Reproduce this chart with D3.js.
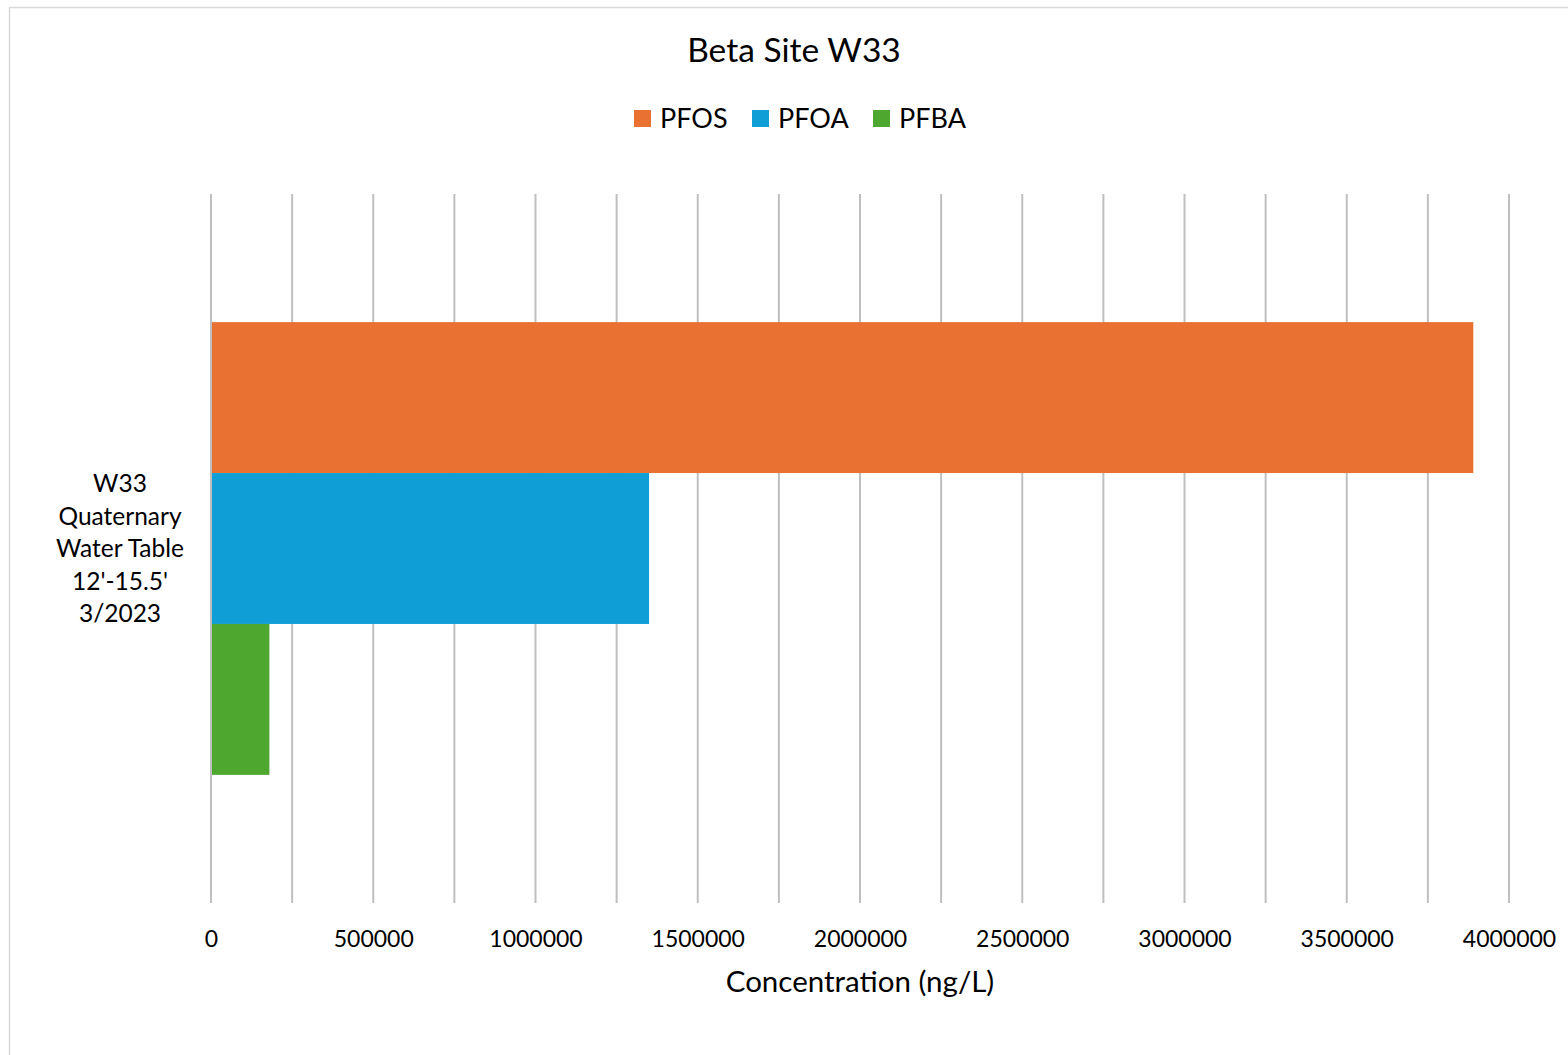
<!DOCTYPE html>
<html><head><meta charset="utf-8">
<script src="https://cdn.jsdelivr.net/npm/d3@7"></script>
<style>html,body{margin:0;padding:0;background:#fff;}svg{display:block;font-family:Lato,"Open Sans",sans-serif;}</style>
</head><body>
<svg id="chart" width="1568" height="1055"></svg>
<script>
const categories = ["W33 Quaternary Water Table 12'-15.5' 3/2023"];
const categoryLines = [["W33", "Quaternary", "Water Table", "12'-15.5'", "3/2023"]];
const seriesNames = ["PFOS", "PFOA", "PFBA"];
const pfos = [3890000];
const pfoa = [1350000];
const pfba = [180000];
const colors = ["#E97132", "#0F9ED5", "#4EA72E"];
const xTicks = [0, 500000, 1000000, 1500000, 2000000, 2500000, 3000000, 3500000, 4000000];
const gridTicks = d3.range(0, 4000001, 250000);

const seriesValues = [pfos, pfoa, pfba];
const svg = d3.select("#chart");
const W = 1568, H = 1055;

// chart border
svg.append("rect").attr("x", 9.5).attr("y", 7.5).attr("width", W).attr("height", H)
  .attr("fill", "#fff").attr("stroke", "#d9d9d9").attr("stroke-width", 1.5);

const plot = {left: 211, right: 1509, top: 194, bottom: 903};
const x = d3.scaleLinear().domain([0, 4000000]).range([plot.left, plot.right]);
const y = d3.scaleBand().domain(categories).range([plot.top, plot.bottom]).paddingInner(0).paddingOuter(0.283);
const yInner = d3.scaleBand().domain(seriesNames).range([0, y.bandwidth()]).padding(0);

// gridlines
svg.append("g").selectAll("line").data(gridTicks).join("line")
  .attr("x1", d => x(d)).attr("x2", d => x(d))
  .attr("y1", plot.top).attr("y2", plot.bottom)
  .attr("stroke", "#bfbfbf").attr("stroke-width", 2);

// bars
const rows = [];
categories.forEach((c, i) => seriesNames.forEach((s, j) => rows.push({c, s, v: seriesValues[j][i], color: colors[j]})));
svg.append("g").selectAll("rect").data(rows).join("rect")
  .attr("x", x(0) + 1)
  .attr("y", d => y(d.c) + yInner(d.s))
  .attr("width", d => x(d.v) - x(0) - 1)
  .attr("height", yInner.bandwidth())
  .attr("fill", d => d.color);

// x axis tick labels
const xAxis = d3.axisBottom(x).tickValues(xTicks).tickSize(0).tickPadding(0).tickFormat(d3.format("d"));
const gx = svg.append("g").attr("transform", `translate(0,${plot.bottom})`).call(xAxis);
gx.select(".domain").remove();
gx.selectAll("text").attr("font-size", 23).attr("fill", "#000").attr("dy", 0).attr("y", 44)
  .attr("font-family", "Lato, sans-serif");

// category labels
categories.forEach((c, i) => {
  const lines = categoryLines[i];
  const cy = y(c) + y.bandwidth() / 2;
  const lh = 32.5;
  const t = svg.append("text").attr("text-anchor", "middle").attr("font-size", 24.5).attr("fill", "#000");
  lines.forEach((l, k) => {
    t.append("tspan").attr("x", 120).attr("y", cy + (k - (lines.length - 1) / 2) * lh + 8.5).text(l);
  });
});

// title
svg.append("text").attr("x", 794).attr("y", 62).attr("text-anchor", "middle")
  .attr("font-size", 33.5).attr("fill", "#000").text("Beta Site W33");

// axis title
svg.append("text").attr("x", (plot.left + plot.right) / 2).attr("y", 992).attr("text-anchor", "middle")
  .attr("font-size", 29.5).attr("fill", "#000").text("Concentration (ng/L)");

// legend
const legendX = [634, 752, 873];
const lg = svg.append("g");
seriesNames.forEach((s, j) => {
  lg.append("rect").attr("x", legendX[j]).attr("y", 110).attr("width", 17).attr("height", 17).attr("fill", colors[j]);
  lg.append("text").attr("x", legendX[j] + 26).attr("y", 128).attr("font-size", 27).attr("fill", "#000").text(s);
});
</script>
</body></html>
